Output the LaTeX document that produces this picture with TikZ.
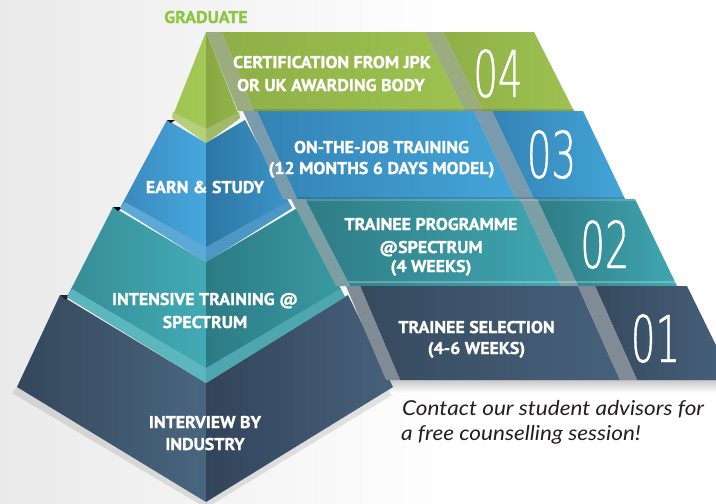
\documentclass[tikz,border=0pt]{standalone}
\usepackage{fontspec}
\setmainfont{PT Sans}
\newfontfamily\labfont{PT Sans}[FakeStretch=1.05,BoldFeatures={FakeBold=1.2}]
\newfontfamily\numfont{DejaVuSans-ExtraLight.ttf}[FakeStretch=0.6,FakeBold=0.6]
\newfontfamily\notefont{Lato}[FakeStretch=1.1]
\definecolor{bgL}{HTML}{EAEAEA}
\definecolor{gradgreen}{HTML}{8DC63F}
\definecolor{notec}{HTML}{231F20}
% green
\definecolor{gLa}{HTML}{9EC351}\definecolor{gLb}{HTML}{A5C956}
\definecolor{gRa}{HTML}{89A843}\definecolor{gRb}{HTML}{93B44A}
\definecolor{gBa}{HTML}{8EAF47}\definecolor{gBb}{HTML}{9EC251}
\definecolor{gBevL}{HTML}{B5D07A}\definecolor{gBevR}{HTML}{A2B96A}
\definecolor{gStr}{HTML}{80955C}
% blue
\definecolor{bLa}{HTML}{3A88BD}\definecolor{bLb}{HTML}{46A8DE}
\definecolor{bRa}{HTML}{2D76A3}\definecolor{bRb}{HTML}{3C96CA}
\definecolor{bBa}{HTML}{3483B5}\definecolor{bBb}{HTML}{44A5D9}
\definecolor{bBevL}{HTML}{5DA9D5}\definecolor{bBevR}{HTML}{4C97C4}
\definecolor{bStr}{HTML}{557E98}
% teal
\definecolor{tLa}{HTML}{378C95}\definecolor{tLb}{HTML}{41ABB5}
\definecolor{tRa}{HTML}{2C7B84}\definecolor{tRb}{HTML}{3A9AA4}
\definecolor{tBa}{HTML}{2E7B85}\definecolor{tBb}{HTML}{40A7B1}
\definecolor{tBevL}{HTML}{5BB6BE}\definecolor{tBevR}{HTML}{4EA6AE}
\definecolor{tStr}{HTML}{56858B}
% dark
\definecolor{dLa}{HTML}{33475B}\definecolor{dLb}{HTML}{4A667F}
\definecolor{dRa}{HTML}{32445A}\definecolor{dRb}{HTML}{47617A}
\definecolor{dBa}{HTML}{364A5E}\definecolor{dBb}{HTML}{47617B}
\definecolor{dStr}{HTML}{5E6B79}
\newcommand\labf{\labfont\bfseries\fontsize{17}{20}\selectfont}
\newcommand\numf{\numfont\fontsize{64.5}{70}\selectfont}
\newcommand\notef{\notefont\itshape\fontsize{20.5}{24}\selectfont}
\tikzset{
  labtxt/.style={text=white,font=\labf,inner sep=0pt,anchor=base},
  numtxt/.style={text=white,font=\numf,inner sep=0pt,anchor=base},
  notetxt/.style={text=notec,font=\notef,inner sep=0pt,anchor=base west},
}
% striped strip: #1 path, #2 colour, #3 y from, #4 y to
\newcommand\stripstrip[4]{%
  \fill[#2] #1 -- cycle;
  \begin{scope}
    \clip #1 -- cycle;
    \foreach \yy in {#3,...,#4}{\draw[white,opacity=0.22,line width=0.6pt] (150,\yy) -- (716,\yy);}
  \end{scope}}
\begin{document}
\begin{tikzpicture}[x=1pt,y=-1pt]
\useasboundingbox (0,0) rectangle (716,504);
\fill[white] (0,0) rectangle (716,504);
\shade[left color=bgL,right color=white] (0,0) rectangle (460,504);

% ---------- shadows ----------
\fill[black,opacity=0.10] (17,387) -- (206,502) -- (393,387) -- (397,392) -- (206,508) -- (12,393) -- cycle;
\shade[top color=black!22,bottom color=white] (390,380) rectangle (716,393);

% ---------- level 1 (dark) ----------
\shade[left color=dLa,right color=dLb] (206,383) -- (60,295) -- (17,387) -- (206,502) -- cycle;
\shade[left color=dRa,right color=dRb] (206,383) -- (348,295) -- (393,387) -- (206,502) -- cycle;
\fill[black!85] (60,295) -- (70,295) -- (66,300) -- cycle;

% ---------- level 2 (teal) ----------
\shade[left color=tLa,right color=tLb] (206,262) -- (113,207) -- (67,297) -- (206,383) -- cycle;
\shade[left color=tRa,right color=tRb] (206,262) -- (299,207) -- (345,297) -- (206,383) -- cycle;
\fill[tBevL] (72,289) -- (206,368) -- (206,383) -- (67,297) -- cycle;
\fill[tBevR] (206,368) -- (340,289) -- (345,297) -- (206,383) -- cycle;
\fill[black!80!blue] (113,207) -- (123,207) -- (118,211) -- cycle;

% ---------- level 3 (blue) ----------
\shade[left color=bLa,right color=bLb] (206,143) -- (167,120) -- (120,208) -- (206,262) -- cycle;
\shade[left color=bRa,right color=bRb] (206,143) -- (245,120) -- (292,208) -- (206,262) -- cycle;
\fill[bBevL] (125,202) -- (206,247) -- (206,262) -- (120,208) -- cycle;
\fill[bBevR] (206,247) -- (287,202) -- (292,208) -- (206,262) -- cycle;
\fill[black!75!red] (167,120) -- (175,120) -- (171,123) -- cycle;

% ---------- level 4 (green) ----------
\shade[left color=gLa,right color=gLb] (206,32) -- (172,118) -- (206,143) -- cycle;
\shade[left color=gRa,right color=gRb] (206,32) -- (240,118) -- (206,143) -- cycle;
\fill[gBevL] (173,112) -- (206,129) -- (206,143) -- (172,118) -- cycle;
\fill[gBevR] (206,129) -- (239,112) -- (240,118) -- (206,143) -- cycle;

% ---------- band 4 ----------
\shade[left color=gBa,right color=gBb] (222,32) -- (425,32) -- (465,111) -- (254,111) -- cycle;
\shade[left color=gBa,right color=gBb] (443,32) -- (534,32) -- (574,111) -- (483,111) -- cycle;
\stripstrip{(206,32) -- (222,32) -- (254,111) -- (238,111)}{gStr}{32}{111}
\stripstrip{(425,32) -- (443,32) -- (483,111) -- (465,111)}{gStr}{32}{111}
\fill[black,opacity=0.12] (254,109) -- (574,109) -- (575,111) -- (254,111) -- cycle;

% ---------- band 3 ----------
\shade[left color=bBa,right color=bBb] (257,111) -- (474,111) -- (516,199) -- (297,199) -- cycle;
\shade[left color=bBa,right color=bBb] (492,111) -- (583,111) -- (625,199) -- (534,199) -- cycle;
\stripstrip{(243,111) -- (257,111) -- (297,199) -- (283,199)}{bStr}{111}{199}
\stripstrip{(474,111) -- (492,111) -- (534,199) -- (516,199)}{bStr}{111}{199}
\fill[black,opacity=0.12] (297,197) -- (624,197) -- (625,199) -- (297,199) -- cycle;

% ---------- band 2 ----------
\shade[left color=tBa,right color=tBb] (305,199) -- (520,199) -- (561,286) -- (350,286) -- cycle;
\shade[left color=tBa,right color=tBb] (537,199) -- (635,199) -- (677,286) -- (578,286) -- cycle;
\stripstrip{(291,199) -- (305,199) -- (350,286) -- (336,286)}{tStr}{199}{286}
\stripstrip{(520,199) -- (537,199) -- (578,286) -- (561,286)}{tStr}{199}{286}
\fill[white,opacity=0.18] (305,199) -- (635,199) -- (636,201) -- (306,201) -- cycle;
\fill[white,opacity=0.25] (348,281) -- (675,281) -- (676,283) -- (349,283) -- cycle;

% ---------- band 1 ----------
\shade[left color=dBa,right color=dBb] (360,286) -- (578,286) -- (620,380) -- (400,380) -- cycle;
\shade[left color=dBa,right color=dBb] (595,286) -- (687,286) -- (733,380) -- (637,380) -- cycle;
\stripstrip{(346,286) -- (360,286) -- (400,380) -- (386,380)}{dStr}{286}{380}
\stripstrip{(578,286) -- (595,286) -- (637,380) -- (620,380)}{dStr}{286}{380}

% ---------- texts ----------
\node[labtxt,text=gradgreen] (grad) at (206,23) {GRADUATE};

\node[labtxt] (cert1) at (332,68) {CERTIFICATION FROM JPK};
\node[labtxt] (cert2) at (331,91) {OR UK AWARDING BODY};
\node[numtxt] (n4) at (498,97) {04};

\node[labtxt] (ojt1) at (381.5,153) {ON-THE-JOB TRAINING};
\node[labtxt] (ojt2) at (381.5,174) {(12 MONTHS 6 DAYS MODEL)};
\node[numtxt] (n3) at (551.5,178) {03};

\node[labtxt] (tp1) at (431,230) {TRAINEE PROGRAMME};
\node[labtxt] (tp2) at (431,253) {@SPECTRUM};
\node[labtxt] (tp3) at (431,272) {(4 WEEKS)};
\node[numtxt] (n2) at (605,268) {02};

\node[labtxt] (ts1) at (476.5,333) {TRAINEE SELECTION};
\node[labtxt] (ts2) at (476.5,354) {(4-6 WEEKS)};
\node[numtxt] (n1) at (655.5,362) {01};

\node[labtxt] (earn) at (205,193) {EARN \& STUDY};
\node[labtxt] (int1) at (205,305) {INTENSIVE TRAINING @};
\node[labtxt] (int2) at (205,328) {SPECTRUM};
\node[labtxt] (iv1) at (205,428) {INTERVIEW BY};
\node[labtxt] (iv2) at (205,450) {INDUSTRY};

\node[notetxt] (note1) at (402,415) {Contact our student advisors for};
\node[notetxt] (note2) at (401,440) {a free counselling session!};
\end{tikzpicture}
\end{document}
